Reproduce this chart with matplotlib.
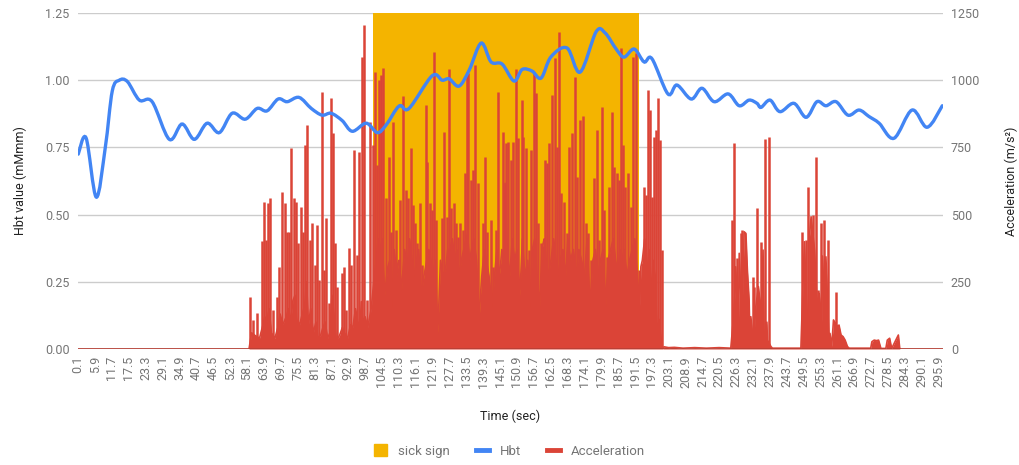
import numpy as np
import matplotlib
matplotlib.use("Agg")
import matplotlib.pyplot as plt
from matplotlib.patches import Patch, PathPatch
from matplotlib.lines import Line2D
from matplotlib.path import Path

plt.rcParams['font.family'] = ['Roboto', 'DejaVu Sans']

# Hbt (left axis)
hbt_time = [0.1, 2.8, 6.3, 9.4, 11.8, 14.2, 17.0, 21.1, 25.5, 31.4, 35.8, 40.0, 44.4, 48.6,
            53.0, 57.5, 61.6, 65.0, 68.8, 71.9, 76.0, 80.2, 83.9, 87.0, 90.8, 94.3, 99.1,
            102.9, 105.9, 110.4, 113.8, 121.7, 125.2, 127.6, 131.0, 134.5, 138.6, 142.0,
            145.8, 149.9, 152.7, 156.1, 159.2, 162.6, 168.1, 172.6, 178.1, 181.2, 185.0,
            187.7, 191.2, 194.6, 197.3, 202.8, 205.9, 210.8, 214.5, 218.7, 223.5, 227.3,
            230.7, 233.4, 234.8, 237.9, 241.3, 246.1, 250.3, 254.0, 257.1, 260.6, 264.7,
            268.5, 271.9, 275.4, 280.5, 286.7, 291.9, 297.1]
hbt_value = [0.725, 0.785, 0.565, 0.75, 0.96, 1.0, 0.995, 0.926, 0.92, 0.78, 0.837, 0.78,
             0.84, 0.805, 0.877, 0.855, 0.895, 0.886, 0.93, 0.92, 0.936, 0.895, 0.87, 0.877,
             0.85, 0.81, 0.84, 0.805, 0.833, 0.904, 0.895, 1.016, 1.0, 1.005, 0.978, 1.038,
             1.138, 1.068, 1.06, 0.997, 1.04, 1.034, 1.008, 1.087, 1.12, 1.03, 1.18, 1.176,
             1.116, 1.086, 1.116, 1.068, 1.08, 0.949, 0.982, 0.93, 0.97, 0.92, 0.949, 0.905,
             0.926, 0.914, 0.899, 0.926, 0.883, 0.914, 0.862, 0.92, 0.905, 0.92, 0.87,
             0.889, 0.865, 0.84, 0.784, 0.889, 0.825, 0.905]

# sick sign period
sick_time = [101.3, 192.8]
sick_value = [1250, 1250]

# Acceleration (right axis)
acc_time = [
    0.1, 58.8, 59.2, 59.7, 60.3, 60.9, 61.7, 62.4, 63.1, 63.6, 64.0, 64.2, 64.6, 64.9, 65.4,
    65.7, 66.1, 66.5, 67.1, 67.7, 68.3, 68.7, 69.2, 69.5, 70.0, 70.4, 71.1, 71.6, 72.0, 72.4,
    72.7, 73.1, 73.4, 73.9, 74.3, 74.6, 74.9, 75.2, 75.7, 76.2, 76.6, 77.1, 77.5, 77.9, 78.1,
    78.6, 78.9, 79.2, 79.7, 80.0, 80.4, 80.9, 81.4, 81.8, 82.1, 82.5, 82.9, 83.4, 83.8, 84.2,
    84.6, 85.0, 85.3, 85.8, 86.3, 86.6, 86.9, 87.3, 87.5, 87.8, 88.3, 88.8, 89.2, 89.9, 90.6,
    90.9, 91.3, 91.6, 92.1, 92.7, 93.3, 93.7, 94.0, 94.5, 94.9, 95.4, 95.9, 96.2, 96.7, 97.0,
    97.4, 97.7, 97.95, 98.3, 98.7, 99.2, 99.6, 100.3, 100.8, 101.4, 101.7, 102.1,
    102.5, 102.9, 103.2, 103.6, 103.9, 104.3, 104.6, 105.0, 105.4, 105.9, 106.4, 106.9,
    107.2, 107.5, 107.9, 108.3, 108.7, 109.2, 109.6, 110.0, 110.4, 110.7, 111.2, 111.9,
    112.3, 112.7, 113.1, 113.6, 114.0, 114.4, 114.8, 115.1, 115.5, 115.9, 116.4, 116.7,
    117.1, 117.5, 118.0, 118.4, 118.9, 119.6, 119.9, 120.1, 120.6, 121.0, 121.3, 121.6,
    122.0, 122.4, 122.8, 123.2, 123.7, 124.1, 124.6, 125.1, 125.5, 125.9, 126.4, 126.7,
    127.1, 127.5, 127.9, 128.3, 128.7, 129.1, 129.5, 130.0, 130.3, 130.7, 131.0, 131.4,
    131.8, 132.2, 132.6, 133.0, 133.4, 133.6, 133.9, 134.2, 134.6, 135.0, 135.3, 135.7,
    136.1, 136.6, 137.0, 137.5, 137.9, 138.4, 138.8, 139.3, 139.7, 140.0, 140.4, 140.7,
    141.3, 141.9, 142.3, 142.8, 143.2, 143.6, 144.0, 144.3, 144.8, 145.3, 145.7, 146.1,
    146.5, 146.8, 147.1, 147.5, 147.9, 148.4, 148.8, 149.3, 149.7, 150.1, 150.5, 150.9,
    151.3, 151.9, 152.5, 152.8, 153.1, 153.6, 154.1, 154.6, 155.1, 155.4, 155.7, 156.2,
    156.6, 157.0, 157.4, 157.8, 158.2, 158.7, 159.1, 159.5, 159.9, 160.3, 160.6, 160.9,
    161.2, 161.6, 162.0, 162.6, 163.1, 163.5, 163.9, 164.3, 164.6, 165.0, 165.4, 165.8,
    166.2, 166.7, 167.1, 167.6, 168.0, 168.4, 168.8, 169.3, 169.8, 170.3, 170.8, 171.3,
    171.7, 172.2, 172.6, 173.1, 173.6, 174.1, 174.6, 175.0, 175.4, 176.0, 176.5, 177.0,
    177.4, 177.9, 178.3, 178.7, 179.1, 179.6, 180.0, 180.5, 180.9, 181.4, 181.8, 182.2,
    182.6, 183.1, 183.6, 184.0, 184.3, 184.8, 185.2, 185.6, 186.0, 186.3, 186.6, 187.0,
    187.3, 187.8, 188.2, 188.7, 189.1, 189.6, 190.0, 190.5, 190.9, 191.4, 191.9, 192.3,
    192.7, 193.1, 193.5, 194.0, 194.4, 194.8, 195.1, 195.5, 195.8, 196.3, 196.7, 197.1,
    197.4, 197.7, 198.0, 198.4, 198.7, 199.1, 199.4, 199.8, 200.1, 200.4, 200.6, 201.0,
    201.5, 203.0, 205.0, 208.0, 212.0, 216.0, 220.4, 224.4,
    224.8, 225.2, 225.6, 225.8, 226.1, 226.7, 227.0, 227.3, 227.8, 228.2, 228.4, 229.0,
    229.6, 230.1, 230.7, 231.0, 231.3, 231.9, 232.2, 232.4, 233.0, 233.5, 233.9, 234.4,
    234.7, 234.9, 235.5, 235.9, 236.3, 236.8, 237.0, 237.7, 238.2, 238.7, 248.5,
    249.0, 249.7, 250.2, 250.5, 250.9, 251.1, 251.3, 252.0, 252.5, 253.2, 253.7, 254.1,
    254.3, 254.8, 255.3, 255.7, 255.9, 256.5, 256.8, 257.1, 257.7, 258.2, 258.5, 259.1,
    259.7, 260.5, 261.1, 261.6, 262.3, 263.0, 263.7, 264.5, 265.1, 272.5,
    272.9, 273.7, 274.5, 275.2, 276.0, 277.7, 278.2, 279.0, 279.7, 281.1, 282.0, 282.5,
    297.1]
acc_value = [
    0, 0, 195, 60, 108, 50, 133, 40, 400, 90, 548, 120, 405, 100, 542,
    150, 560, 60, 145, 40, 195, 80, 306, 130, 585, 90, 542, 120, 436, 150,
    436, 100, 746, 180, 560, 200, 548, 110, 393, 90, 530, 130, 436, 160, 759,
    250, 833, 90, 405, 150, 467, 60, 312, 100, 461, 40, 257, 50, 957, 80,
    294, 100, 486, 40, 170, 60, 932, 200, 802, 150, 393, 30, 232, 50, 281,
    80, 306, 60, 145, 40, 374, 90, 312, 80, 740, 150, 350, 100, 734, 90,
    176, 1086, 100, 1205, 120, 182, 80, 846, 150, 759, 250, 1032,
    330, 684, 410, 1000, 370, 1019, 410, 1044, 200, 560, 300, 715,
    330, 436, 160, 846, 370, 443, 270, 319, 330, 554, 220, 941,
    370, 591, 300, 560, 410, 746, 330, 536, 270, 467, 330, 393,
    370, 542, 200, 312, 270, 908, 330, 697, 370, 542, 330, 517,
    270, 1106, 330, 480, 60, 182, 330, 486, 270, 808, 300, 492,
    370, 1040, 370, 523, 410, 542, 330, 467, 370, 418, 270, 467,
    330, 443, 370, 653, 410, 1032, 430, 1025, 330, 629, 370, 666,
    410, 1056, 330, 616, 110, 207, 270, 467, 370, 715, 330, 436,
    270, 480, 160, 306, 270, 443, 370, 957, 270, 319, 370, 808,
    330, 616, 765, 370, 771, 270, 703, 410, 771, 330, 1040, 370,
    784, 200, 926, 410, 790, 270, 746, 330, 368, 160, 740, 370,
    1032, 410, 951, 270, 467, 160, 393, 370, 393, 410, 703, 330,
    691, 270, 765, 330, 945, 410, 1081, 330, 753, 270, 1180, 330,
    579, 370, 548, 270, 430, 410, 753, 330, 802, 370, 1013, 270,
    641, 370, 852, 330, 867, 270, 467, 410, 430, 160, 331, 330,
    635, 370, 815, 270, 405, 330, 901, 370, 517, 160, 343, 330,
    604, 370, 883, 410, 678, 330, 653, 270, 629, 370, 1118, 330,
    759, 370, 604, 270, 653, 330, 529, 370, 1087, 410, 1100, 270,
    294, 160, 306, 330, 604, 410, 573, 270, 963, 370, 889, 200,
    567, 330, 790, 270, 815, 60, 932, 110, 777, 40, 368, 0,
    8, 5, 6, 3, 5, 3, 5, 3,
    480, 100, 768, 200, 306, 337, 60, 356, 430, 100, 443, 436,
    430, 294, 182, 30, 120, 269, 20, 232, 157, 523, 232, 182,
    60, 399, 368, 20, 780, 100, 33, 787, 9, 3, 3,
    436, 399, 407, 150, 604, 80, 399, 492, 498, 368, 715, 150,
    219, 207, 467, 100, 346, 480, 120, 343, 405, 20, 58, 10,
    108, 213, 83, 89, 52, 46, 33, 9, 3, 3,
    27, 33, 31, 33, 2, 2, 33, 40, 2, 33, 52, 0,
    0]

x_ticks = [0.1, 5.9, 11.7, 17.5, 23.3, 29.1, 34.9, 40.7, 46.5, 52.3, 58.1, 63.9, 69.7,
           75.5, 81.3, 87.1, 92.9, 98.7, 104.5, 110.3, 116.1, 121.9, 127.7, 133.5, 139.3,
           145.1, 150.9, 156.7, 162.5, 168.3, 174.1, 179.9, 185.7, 191.5, 197.3, 203.1,
           208.9, 214.7, 220.5, 226.3, 232.1, 237.9, 243.7, 249.5, 255.3, 261.1, 266.9,
           272.7, 278.5, 284.3, 290.1, 295.9]
hbt_ticks = [0.0, 0.25, 0.5, 0.75, 1.0, 1.25]
acc_ticks = [0, 250, 500, 750, 1000, 1250]

YELLOW = '#F4B400'
BLUE = '#4285F4'
RED = '#DB4437'
GREY = '#757575'


def smooth_path(xs, ys):
    # Catmull-Rom curve through the points, like the "function" curve type
    xs = np.asarray(xs, float)
    ys = np.asarray(ys, float)
    verts = [(xs[0], ys[0])]
    codes = [Path.MOVETO]
    n = len(xs)
    for i in range(n - 1):
        x0, y0 = (xs[i - 1], ys[i - 1]) if i > 0 else (xs[i], ys[i])
        x3, y3 = (xs[i + 2], ys[i + 2]) if i + 2 < n else (xs[i + 1], ys[i + 1])
        x1, y1, x2, y2 = xs[i], ys[i], xs[i + 1], ys[i + 1]
        c1 = (x1 + (x2 - x0) / 6, y1 + (y2 - y0) / 6)
        c2 = (x2 - (x3 - x1) / 6, y2 - (y3 - y1) / 6)
        verts += [c1, c2, (x2, y2)]
        codes += [Path.CURVE4] * 3
    return Path(verts, codes)


fig = plt.figure(figsize=(10.19, 4.65), dpi=100)
ax = fig.add_axes([0.0765, 0.2495, 0.8485, 0.7225])
ax2 = ax.twinx()
# left axis drawn on top so the Hbt line sits above the acceleration area
ax.set_zorder(ax2.get_zorder() + 1)
ax.patch.set_visible(False)

ax2.fill_between(sick_time, 0, sick_value, color=YELLOW, lw=0, zorder=1)

# the samples are so dense that each spike shows up as a thin vertical bar:
# draw local maxima as bars and fill the rest of the series underneath
acc_t = np.array(acc_time, float)
acc_v = np.array(acc_value, float)
is_peak = np.zeros(len(acc_v), bool)
is_peak[1:-1] = (acc_v[1:-1] > acc_v[:-2]) & (acc_v[1:-1] > acc_v[2:]) & (acc_v[1:-1] > 100)
ax2.fill_between(acc_t[~is_peak], 0, acc_v[~is_peak], color=RED, lw=0, zorder=2)
ax2.plot(acc_t[~is_peak], acc_v[~is_peak], color=RED, lw=1.2, zorder=3)
ax2.vlines(acc_t[is_peak], 0, acc_v[is_peak], color=RED, lw=1.8, zorder=3)
ax2.set_ylim(0, 1250)
ax2.set_yticks(acc_ticks)
ax2.grid(axis='y', color='#cccccc', lw=1, zorder=0)
ax2.set_axisbelow(True)

ax.add_patch(PathPatch(smooth_path(hbt_time, hbt_value), facecolor='none',
                       edgecolor=BLUE, lw=2.4, capstyle='round', zorder=4))
ax.axhline(0, color='#333333', lw=1, zorder=5)
ax.set_ylim(0, 1.25)
ax.set_yticks(hbt_ticks)
ax.set_yticklabels([f'{v:.2f}' for v in hbt_ticks])
ax.set_xlim(0.0, 297.2)
ax.set_xticks(x_ticks)
ax.set_xticklabels([f'{v:g}' for v in x_ticks], rotation=90)

for a in (ax, ax2):
    for s in a.spines.values():
        s.set_visible(False)
    a.tick_params(length=0, labelsize=9, labelcolor=GREY)
ax.tick_params(axis='x', pad=5)
ax.tick_params(axis='y', pad=6)
ax2.tick_params(axis='y', pad=6)

ax.set_ylabel('Hbt value (mMmm)', fontsize=9, color='#222222', labelpad=13)
ax2.set_ylabel('Acceleration (m/s²)', fontsize=9, color='#222222', labelpad=18)
ax.set_xlabel('Time (sec)', fontsize=9, color='#222222', labelpad=16)

handles = [Patch(facecolor=YELLOW, edgecolor=YELLOW),
           Line2D([], [], color=BLUE, lw=3.5),
           Line2D([], [], color=RED, lw=3.5)]
fig.legend(handles, ['sick sign', 'Hbt', 'Acceleration'], loc='center',
           bbox_to_anchor=(0.5, 0.03), ncol=3, frameon=False, fontsize=9.5,
           labelcolor=GREY, handlelength=1.0, handleheight=1.0, columnspacing=2.0)

fig.savefig('out.png', dpi=100)
